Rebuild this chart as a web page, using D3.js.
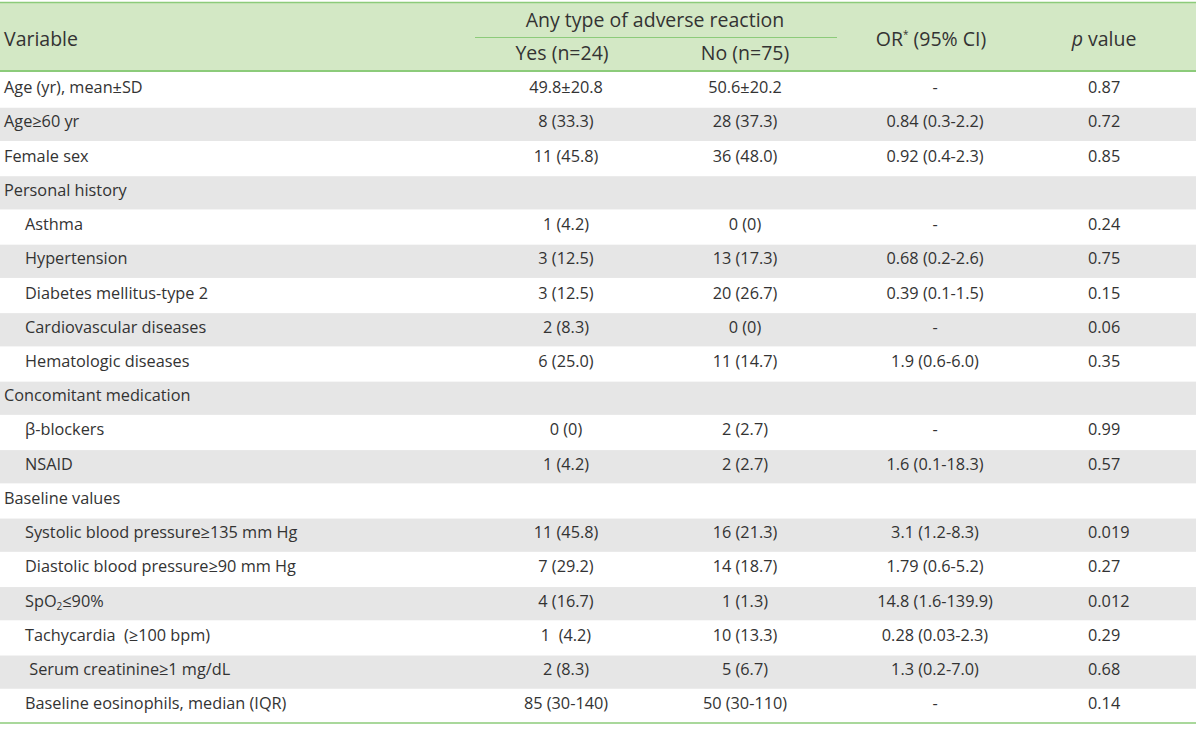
<!DOCTYPE html>
<html>
<head>
<meta charset="utf-8">
<script src="https://cdn.jsdelivr.net/npm/d3@7/dist/d3.min.js"></script>
<style>
  html, body { margin: 0; padding: 0; background: #ffffff; }
  svg text { font-family: "Open Sans", "Noto Sans", sans-serif; fill: #333333; white-space: pre; }
</style>
</head>
<body>
<svg id="chart" width="1200" height="730"></svg>
<script>
// ---- data ----
const variables = [
  "Age (yr), mean±SD", "Age≥60 yr", "Female sex", "Personal history",
  "Asthma", "Hypertension", "Diabetes mellitus-type 2", "Cardiovascular diseases",
  "Hematologic diseases", "Concomitant medication", "β-blockers", "NSAID",
  "Baseline values", "Systolic blood pressure≥135 mm Hg", "Diastolic blood pressure≥90 mm Hg",
  "SpO2≤90%", "Tachycardia  (≥100 bpm)", " Serum creatinine≥1 mg/dL",
  "Baseline eosinophils, median (IQR)"
];
const indented = [false, false, false, false, true, true, true, true, true, false, true, true,
  false, true, true, true, true, true, true];
const yesValues = ["49.8±20.8", "8 (33.3)", "11 (45.8)", "", "1 (4.2)", "3 (12.5)", "3 (12.5)",
  "2 (8.3)", "6 (25.0)", "", "0 (0)", "1 (4.2)", "", "11 (45.8)", "7 (29.2)", "4 (16.7)",
  "1  (4.2)", "2 (8.3)", "85 (30-140)"];
const noValues = ["50.6±20.2", "28 (37.3)", "36 (48.0)", "", "0 (0)", "13 (17.3)", "20 (26.7)",
  "0 (0)", "11 (14.7)", "", "2 (2.7)", "2 (2.7)", "", "16 (21.3)", "14 (18.7)", "1 (1.3)",
  "10 (13.3)", "5 (6.7)", "50 (30-110)"];
const orValues = ["-", "0.84 (0.3-2.2)", "0.92 (0.4-2.3)", "", "-", "0.68 (0.2-2.6)", "0.39 (0.1-1.5)",
  "-", "1.9 (0.6-6.0)", "", "-", "1.6 (0.1-18.3)", "", "3.1 (1.2-8.3)", "1.79 (0.6-5.2)",
  "14.8 (1.6-139.9)", "0.28 (0.03-2.3)", "1.3 (0.2-7.0)", "-"];
const pValues = ["0.87", "0.72", "0.85", "", "0.24", "0.75", "0.15", "0.06", "0.35", "", "0.99",
  "0.57", "", "0.019", "0.27", "0.012", "0.29", "0.68", "0.14"];
const groupHeader = "Any type of adverse reaction";
const subHeaders = ["Yes (n=24)", "No (n=75)"];

// ---- layout ----
const svg = d3.select("#chart");
const W = 1196;
const headerTop = 3, headerBottom = 71, tableBottom = 723;
const green = "#8ccb7a", headerBg = "#d3e8c5", stripe = "#e6e6e6";

const y = d3.scaleBand().domain(d3.range(variables.length)).range([headerBottom + 1.5, tableBottom]).paddingInner(0);
const colX = { label: 4, indent: 25, yes: 566, no: 745, or: 935, p: 1088 };

// header background
svg.append("rect").attr("x", 0).attr("y", headerTop).attr("width", W).attr("height", headerBottom - headerTop).attr("fill", headerBg);
svg.append("line").attr("x1", 0).attr("x2", W).attr("y1", 2.5).attr("y2", 2.5).attr("stroke", green).attr("stroke-width", 1.6);
svg.append("line").attr("x1", 0).attr("x2", W).attr("y1", headerBottom).attr("y2", headerBottom).attr("stroke", green).attr("stroke-width", 2);
svg.append("line").attr("x1", 475).attr("x2", 837).attr("y1", 37.5).attr("y2", 37.5).attr("stroke", green).attr("stroke-width", 1);

// header text
const hs = 19.5;
svg.append("text").attr("x", colX.label).attr("y", 46).attr("font-size", hs).text("Variable");
svg.append("text").attr("x", 655).attr("y", 27).attr("text-anchor", "middle").attr("font-size", hs).text(groupHeader);
svg.append("text").attr("x", 562).attr("y", 60).attr("text-anchor", "middle").attr("font-size", hs).text(subHeaders[0]);
svg.append("text").attr("x", 745).attr("y", 60).attr("text-anchor", "middle").attr("font-size", hs).text(subHeaders[1]);
const orH = svg.append("text").attr("x", 931).attr("y", 46).attr("text-anchor", "middle").attr("font-size", hs);
orH.append("tspan").text("OR");
orH.append("tspan").attr("font-size", 10).attr("dy", -8).text("*");
orH.append("tspan").attr("dy", 8).text(" (95% CI)");
const pH = svg.append("text").attr("x", 1104).attr("y", 46).attr("text-anchor", "middle").attr("font-size", hs);
pH.append("tspan").attr("font-style", "italic").text("p");
pH.append("tspan").text(" value");

// stripes
const rows = svg.append("g").selectAll("g").data(variables.map((v, i) => i)).join("g")
  .attr("transform", i => `translate(0,${y(i)})`);
rows.filter(i => i % 2 === 1).append("rect")
  .attr("x", 0).attr("y", 1).attr("width", W).attr("height", y.bandwidth() - 1).attr("fill", stripe);

const fs = 16.3;
const mid = y.bandwidth() / 2 + 3.5;
// labels
rows.append("text")
  .attr("x", i => indented[i] ? colX.indent : colX.label)
  .attr("y", mid).attr("font-size", fs)
  .each(function(i) {
    const t = d3.select(this);
    const label = variables[i];
    if (label.startsWith("SpO2")) {
      t.append("tspan").text("SpO");
      t.append("tspan").attr("font-size", 10).attr("dy", 3).text("2");
      t.append("tspan").attr("dy", -3).text(label.slice(4));
    } else {
      t.text(label);
    }
  });
rows.append("text").attr("x", colX.yes).attr("y", mid).attr("font-size", fs).attr("text-anchor", "middle").text(i => yesValues[i]);
rows.append("text").attr("x", colX.no).attr("y", mid).attr("font-size", fs).attr("text-anchor", "middle").text(i => noValues[i]);
rows.append("text").attr("x", colX.or).attr("y", mid).attr("font-size", fs).attr("text-anchor", "middle").text(i => orValues[i]);
rows.append("text").attr("x", colX.p).attr("y", mid).attr("font-size", fs).attr("text-anchor", "start").text(i => pValues[i]);

// bottom rule
svg.append("line").attr("x1", 0).attr("x2", W).attr("y1", tableBottom).attr("y2", tableBottom).attr("stroke", green).attr("stroke-width", 1.6);
</script>
</body>
</html>
